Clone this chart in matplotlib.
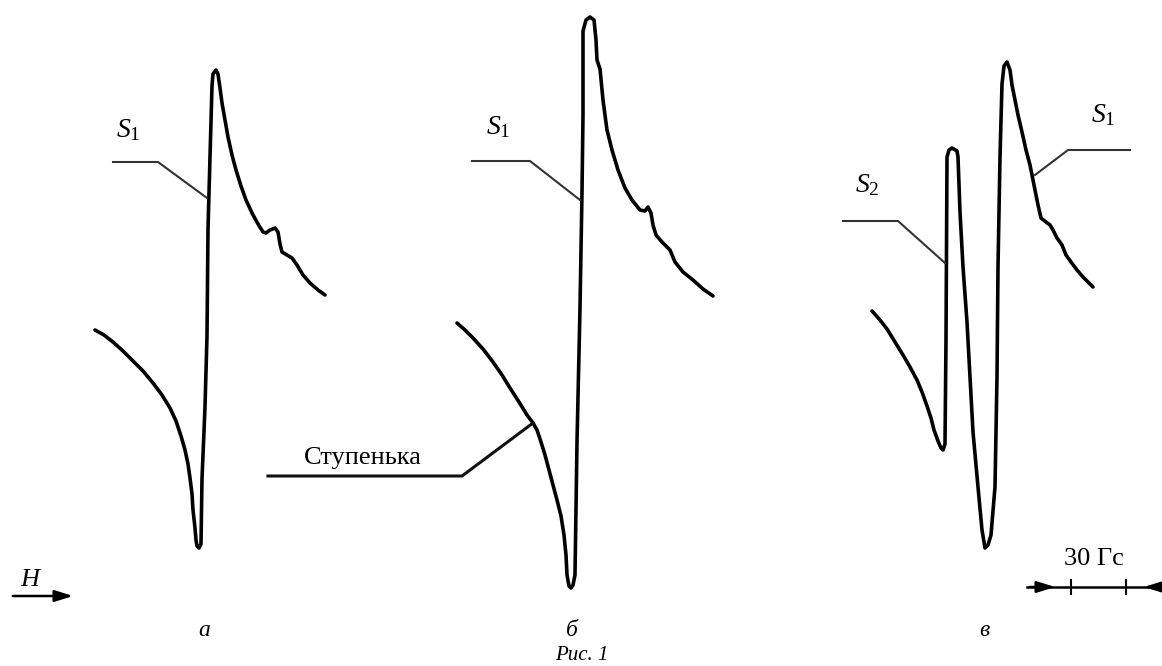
import numpy as np
import matplotlib.pyplot as plt

plt.rcParams['font.family'] = ['Liberation Serif', 'DejaVu Serif']
plt.rcParams['mathtext.fontset'] = 'custom'
plt.rcParams['mathtext.rm'] = 'Liberation Serif'
plt.rcParams['mathtext.it'] = 'Liberation Serif:italic'

# EPR traces digitized on the page grid (x to the right, y downward)
spec_a_x = [95, 104, 113, 123, 133, 143, 153, 162, 170, 176, 181, 185, 188, 190, 192, 193, 195,
            196, 197, 199, 201, 202, 205, 207, 208, 210, 212, 213, 216, 218, 220, 222, 225, 228,
            232, 236, 241, 246, 252, 258, 263, 266, 270, 275, 278, 280, 282, 287, 292, 297, 303,
            310, 318, 325]
spec_a_y = [330, 335, 342, 351, 361, 371, 383, 395, 408, 421, 436, 450, 464, 478, 494, 510, 528,
            540, 546, 548, 544, 479, 407, 336, 229, 157, 86, 74, 70, 74, 88, 103, 120, 137,
            155, 170, 186, 200, 213, 224, 232, 233, 230, 228, 232, 244, 252, 255, 258, 265, 275,
            283, 290, 295]

spec_b_x = [457, 465, 473, 483, 493, 502, 510, 519, 527, 533, 537, 541, 545, 549, 553, 557, 561,
            564, 566, 567, 569, 571, 573, 575, 577, 580, 582, 583, 583, 586, 590, 594, 596, 597,
            600, 603, 607, 612, 618, 625, 632, 640, 645, 648, 651, 653, 656, 662, 670, 675, 683,
            693, 703, 713]
spec_b_y = [323, 330, 338, 349, 362, 375, 388, 402, 415, 423, 430, 442, 455, 470, 485, 500, 516,
            535, 555, 575, 586, 588, 585, 575, 442, 308, 192, 115, 31, 20, 17, 20, 40, 60,
            69, 100, 130, 150, 170, 188, 200, 210, 211, 207, 213, 225, 235, 242, 250, 262, 272,
            280, 289, 296]

spec_c_x = [872, 880, 887, 895, 903, 910, 917, 922, 927, 931, 934, 938, 941, 943, 945, 946, 947,
            949, 952, 957, 958, 960, 963, 967, 970, 973, 978, 982, 985, 988, 991, 995, 997, 998,
            1000, 1002, 1004, 1007, 1010, 1012, 1015, 1018, 1022, 1026, 1030, 1034, 1038, 1041,
            1046, 1050, 1053, 1057, 1062, 1066, 1071, 1077, 1083, 1088, 1093]
spec_c_y = [311, 320, 329, 342, 355, 367, 380, 392, 406, 418, 430, 441, 448, 450, 444, 340, 157,
            150, 148, 151, 157, 212, 267, 322, 377, 432, 487, 530, 548, 545, 535, 487, 377, 267,
            157, 84, 66, 62, 70, 85, 100, 115, 132, 150, 165, 185, 205, 218,
            222, 225, 230, 238, 245, 255, 262, 270, 277, 282, 287]

# leader lines: (x points, y points)
leader_s1_a = ([113, 158, 207], [162, 162, 198])
leader_s1_b = ([472, 530, 580], [161, 161, 200])
leader_step = ([268, 462, 533], [476, 476, 423])
leader_s2_c = ([843, 898, 945], [221, 221, 263])
leader_s1_c = ([1130, 1068, 1035], [150, 150, 175])

panel_labels = ['а', 'б', 'в']
panel_label_x = [204, 572, 984]

fig = plt.figure(figsize=(11.62, 6.66), dpi=100)
ax = fig.add_axes([0, 0, 1, 1])
ax.set_xlim(0, 1162)
ax.set_ylim(666, 0)
ax.axis('off')

for xs, ys in [(spec_a_x, spec_a_y), (spec_b_x, spec_b_y), (spec_c_x, spec_c_y)]:
    ax.plot(xs, ys, color='black', lw=2.6, solid_joinstyle='round', solid_capstyle='round')

for xs, ys in [leader_s1_a, leader_s1_b, leader_s2_c, leader_s1_c]:
    ax.plot(xs, ys, color='#333333', lw=1.5)
ax.plot(*leader_step, color='#111111', lw=2.2)

s_size = 20
ax.text(128, 130, r'$S_1$', fontsize=s_size, ha='center', va='center')
ax.text(498, 127, r'$S_1$', fontsize=s_size, ha='center', va='center')
ax.text(867, 185, r'$S_2$', fontsize=s_size, ha='center', va='center')
ax.text(1103, 115, r'$S_1$', fontsize=s_size, ha='center', va='center')
ax.text(363, 458, 'Ступенька', fontsize=19, ha='center', va='center')

head = '-|>,head_length=0.55,head_width=0.17'

# field direction
ax.text(30, 580, 'H', fontsize=19, style='italic', ha='center', va='center')
ax.annotate('', xy=(76, 596), xytext=(10, 596),
            arrowprops=dict(arrowstyle=head, color='black', lw=1.8, mutation_scale=20))

# 30 Gs scale bar
ax.text(1094, 559, '30 Гс', fontsize=19, ha='center', va='center')
ax.plot([1027, 1160], [587, 587], color='black', lw=1.8)
ax.annotate('', xy=(1058, 587), xytext=(1027, 587),
            arrowprops=dict(arrowstyle=head, color='black', lw=1.8, mutation_scale=20))
ax.annotate('', xy=(1141, 587), xytext=(1162, 587),
            arrowprops=dict(arrowstyle=head, color='black', lw=1.8, mutation_scale=20))
for tx in [1071, 1126]:
    ax.plot([tx, tx], [580, 594], color='black', lw=1.5)

for lbl, lx in zip(panel_labels, panel_label_x):
    ax.text(lx, 636, lbl, fontsize=17, style='italic', ha='center', va='baseline')
ax.text(582, 665, 'Рис. 1', fontsize=15, style='italic', ha='center', va='bottom')

fig.savefig('out.png', dpi=100)
